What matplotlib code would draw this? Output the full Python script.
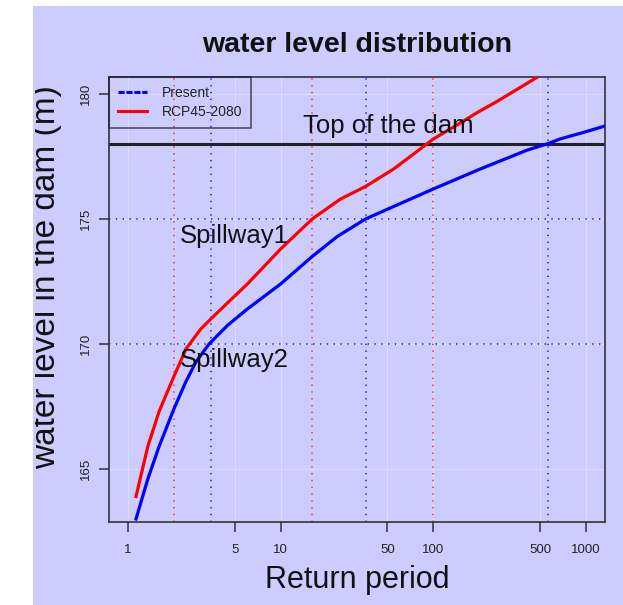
import matplotlib
matplotlib.use("Agg")
import matplotlib.pyplot as plt
from matplotlib.transforms import Bbox
from matplotlib.patches import Rectangle
from matplotlib.lines import Line2D

plt.rcParams['font.family'] = ['Liberation Sans', 'DejaVu Sans']

# ---- data ----
present_T = [1.13, 1.35, 1.6, 2.0, 2.4, 2.8, 3.4, 4.5, 6.06, 10, 16.1, 23.5, 36, 55, 100, 203, 410, 567, 676, 985, 1331]
present_V = [163.0, 164.6, 165.9, 167.4, 168.5, 169.3, 170.0, 170.75, 171.4, 172.4, 173.5, 174.3, 175.0, 175.5, 176.2, 177.0, 177.75, 178.02, 178.2, 178.48, 178.72]
rcp_T = [1.13, 1.35, 1.6, 2.0, 2.4, 3.0, 3.49, 4.5, 6.06, 10, 16.1, 24.7, 36, 55, 74.3, 100, 136, 193, 261, 488, 600]
rcp_V = [163.9, 165.9, 167.3, 168.7, 169.8, 170.6, 171.0, 171.65, 172.4, 173.8, 175.0, 175.8, 176.3, 177.0, 177.6, 178.2, 178.68, 179.25, 179.7, 180.7, 181.0]
red_vlines = [2, 16, 100]
blue_vlines = [3.5, 36, 560]
spillway_levels = [175, 170]
dam_level = 178
xticks = [1, 5, 10, 50, 100, 500, 1000]
yticks = [165, 170, 175, 180]
series_names = ["Present", "RCP45-2080"]

bg = '#ccccff'
W, H = 623, 605
fig = plt.figure(figsize=(W/100, H/100), dpi=100, facecolor=bg)
# white margins of the screenshot
fig.patches.append(Rectangle((0, 0), 33/W, 1, transform=fig.transFigure, facecolor='white', edgecolor='none', zorder=-1))
fig.patches.append(Rectangle((0, 1-6/H), 1, 6/H, transform=fig.transFigure, facecolor='white', edgecolor='none', zorder=-1))

ax = fig.add_axes([109/W, 1-522/H, (605-109)/W, (522-76.7)/H])
ax.set_facecolor(bg)
ax.set_xscale('log')
ax.set_xlim(0.752, 1330)
ax.set_ylim(162.88, 180.69)

# faint grid
for t in xticks:
    ax.axvline(t, color='white', alpha=0.3, lw=0.8, zorder=0)
for t in yticks:
    ax.axhline(t, color='white', alpha=0.3, lw=0.8, zorder=0)

dot = (0, (0.7, 2.8))
for t in red_vlines:
    ax.axvline(t, color='#ff4a4a', lw=1.4, linestyle=dot, zorder=1)
for t in blue_vlines:
    ax.axvline(t, color='#3a3aff', lw=1.4, linestyle=dot, zorder=1)
for lv in spillway_levels:
    ax.axhline(lv, color='#3a3aff', lw=1.4, linestyle=dot, zorder=1)
ax.axhline(dam_level, color='#222222', lw=2.2, zorder=2)

ax.plot(present_T, present_V, color='blue', lw=2.3, zorder=3, solid_joinstyle='round')
ax.plot(rcp_T, rcp_V, color='red', lw=2.3, zorder=3, solid_joinstyle='round')

ax.text(50.8, 178.44, "Top of the dam", ha='center', va='baseline', fontsize=18.5, color='#111111')
ax.text(5.0, 174.04, "Spillway1", ha='center', va='baseline', fontsize=18.5, color='#111111')
ax.text(5.0, 169.08, "Spillway2", ha='center', va='baseline', fontsize=18.5, color='#111111')

ax.set_xticks(xticks)
ax.set_xticklabels([str(t) for t in xticks])
ax.xaxis.set_minor_locator(matplotlib.ticker.NullLocator())
ax.set_yticks(yticks)
ax.set_yticklabels([str(t) for t in yticks], rotation=90, va='center')
ax.tick_params(axis='both', length=7, width=1.1, color='#333333', labelsize=9.5, labelcolor='#222222')
ax.tick_params(axis='x', pad=9)
ax.tick_params(axis='y', pad=5)
for s in ax.spines.values():
    s.set_color('#333333')
    s.set_linewidth(1.2)

handles = [Line2D([], [], color='blue', lw=2.2, linestyle=(0, (2, 0.6))),
           Line2D([], [], color='red', lw=2.2)]
leg = ax.legend(handles, series_names, loc='upper left', bbox_to_anchor=(0, 1), fontsize=10,
                frameon=True, fancybox=False, borderaxespad=0, handlelength=2.1,
                borderpad=0.65, labelspacing=0.4, handletextpad=1.05)
leg.get_frame().set_facecolor('none')
leg.get_frame().set_edgecolor('#222222')
leg.get_frame().set_linewidth(1.1)
for t in leg.get_texts():
    t.set_color('#222222')

fig.text(357/W, 1-52/H, "water level distribution", ha='center', va='baseline', fontsize=20.5, fontweight='bold', color='#111111')
fig.text(357/W, 1-588/H, "Return period", ha='center', va='baseline', fontsize=22, color='#111111')
yl = fig.text(55/W, 1-277/H, "water level in the dam (m)", rotation=90, rotation_mode='anchor',
              ha='center', va='baseline', fontsize=24, color='#111111')
yl.set_clip_box(Bbox([[35, 0], [W, H]]))
yl.set_clip_on(True)

fig.savefig("out.png", dpi=100, facecolor=bg)
